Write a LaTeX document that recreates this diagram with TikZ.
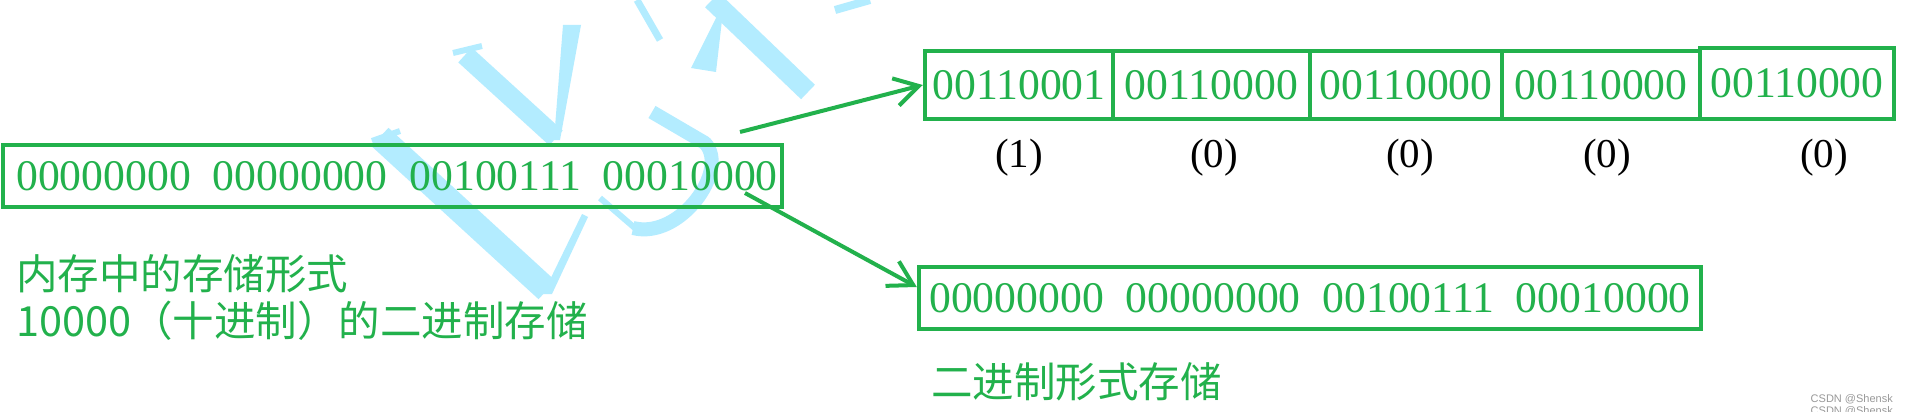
\documentclass[tikz,border=0pt]{standalone}
\usepackage{fontspec}
\setmainfont{Liberation Serif}
\newfontfamily\cjk{Noto Sans CJK SC}
\newfontfamily\wmsans{Liberation Sans}
\usetikzlibrary{arrows.meta}
\definecolor{g}{HTML}{22B14C}
\definecolor{wm}{HTML}{B3ECFF}
\begin{document}
\begin{tikzpicture}[x=1pt,y=-1pt,
  cell/.style={draw=g, line width=4.5pt, inner sep=0pt, text=g, font=\fontsize{43.7}{43.7}\selectfont},
  lab/.style={text=g, font=\cjk\fontsize{41.5}{41.5}\selectfont, anchor=west, inner sep=0pt},
  idx/.style={font=\fontsize{41}{41}\selectfont, text=black, inner sep=0pt},
  conn/.style={draw=g, line width=4pt, -{Straight Barb[length=24pt,width=28pt]}},
  wmline/.style={draw=wm, line cap=butt, line join=round},
  wmfill/.style={fill=wm},
  tiny/.style={font=\wmsans\fontsize{11}{11}\selectfont, text=gray!80, anchor=east, inner sep=0pt}]
\useasboundingbox (0,0) rectangle (1912,412);
\fill[white] (0,0) rectangle (1912,412);
% watermark strokes
\draw[wmline, line width=20pt] (465,55) -- (556,138);
\draw[wmline, line width=6pt] (453,53) -- (482,46);
\fill[wmfill] (563,25) -- (581,25) -- (560,140) -- (554,140) -- cycle;
\draw[wmline, line width=25pt] (380,137) -- (547,290);
\draw[wmline, line width=6pt] (372,141) -- (400,131);
\fill[wmfill] (543,294) -- (582,214) -- (588,217) -- (552,294) -- cycle;
\draw[wmline, line width=14pt] (652,112) -- (705,143) .. controls (730,170) and (680,240) .. (633,228);
\draw[wmline, line width=6pt] (636,229) -- (600,198);
\draw[wmline, line width=7pt] (637,0) -- (660,40);
\draw[wmline, line width=20pt] (712,0) -- (808,92);
\fill[wmfill] (716,18) -- (722,20) -- (716,72) -- (691,68) -- cycle;
\draw[wmline, line width=8pt] (835,10) -- (870,0);
% memory box
\node[cell, minimum width=779pt, minimum height=62pt] (mem) at (392.5,176)
  {\hspace*{9pt}00000000\ \ 00000000\ \ 00100111\ \ 00010000};
% character storage cells
\node[cell, minimum width=188pt, minimum height=68pt] (c1) at (1019,85) {00110001};
\node[cell, minimum width=197pt, minimum height=68pt] (c2) at (1211.5,85) {00110000};
\node[cell, minimum width=192pt, minimum height=68pt] (c3) at (1406,85) {00110000};
\node[cell, minimum width=198pt, minimum height=68pt] (c4) at (1601,85) {00110000};
\node[cell, minimum width=194pt, minimum height=71pt] (c5) at (1797,83.5) {00110000};
\node[idx] (i1) at (1019,158) {(1)};
\node[idx] (i2) at (1214,158) {(0)};
\node[idx] (i3) at (1410,158) {(0)};
\node[idx] (i4) at (1607,158) {(0)};
\node[idx] (i5) at (1824,158) {(0)};
% binary storage box
\node[cell, minimum width=782pt, minimum height=62pt] (bin) at (1310,298)
  {00000000\ \ 00000000\ \ 00100111\ \ 00010000};
% labels
\node[lab] (l1) at (16,274) {内存中的存储形式};
\node[lab] (l2) at (16,321) {10000（十进制）的二进制存储};
\node[lab] (l3) at (931,382) {二进制形式存储};
% connectors
\coordinate (s1) at (740,132);
\coordinate (s2) at (745,193);
\draw[conn] (s1) -- (c1.west);
\draw[conn] (s2) -- ([yshift=11pt]bin.west);
% csdn marks
\node[tiny] (m1) at (1893,399) {CSDN @Shensk};
\node[tiny] (m2) at (1893,411) {CSDN @Shensk};
\end{tikzpicture}
\end{document}
